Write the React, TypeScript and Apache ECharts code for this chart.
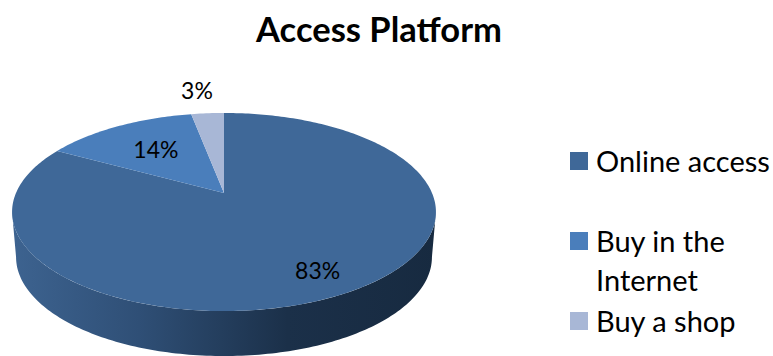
import React, { useEffect, useRef } from "react";
import * as echarts from "echarts";

const titleText = "Access Platform";
const sliceNames = ["Online access", "Buy in the Internet", "Buy a shop"];
const sliceValues = [83, 14, 3];
const sliceColors = ["#3F6898", "#4A7EBB", "#A8B7D6"];
const legendLines = [["Online access"], ["Buy in the", "Internet"], ["Buy a shop"]];

const FONT = "Lato, Carlito, sans-serif";

// Tilted disc: a unit circle seen in perspective, apex slightly above the ellipse centre.
const APEX_X = 224;
const APEX_Y = 193;
const SCALE_X = 208;
const SCALE_Y = 95.4;
const TILT = 0.192;
const RIM_DEPTH = 45;
const RIM_NARROW = 208 / 212;

const project = (theta: number, r = 1): [number, number] => {
  const u = r * Math.sin(theta);
  const v = r * Math.cos(theta);
  const w = 1 + TILT * v;
  return [APEX_X + (SCALE_X * u) / w, APEX_Y - (SCALE_Y * v) / w];
};

const total = sliceValues.reduce((a, b) => a + b, 0);
const toAngle = (value: number) => (value / total) * Math.PI * 2;

const sliceStarts: number[] = [];
sliceValues.reduce((acc, v, i) => {
  sliceStarts[i] = acc;
  return acc + v;
}, 0);

const arcPoints = (from: number, to: number, r = 1) => {
  const steps = Math.max(2, Math.ceil(((to - from) * 180) / Math.PI));
  const pts: [number, number][] = [];
  for (let i = 0; i <= steps; i++) pts.push(project(from + ((to - from) * i) / steps, r));
  return pts;
};

// Side wall of the disc, visible along the front half only.
const renderRim = () => {
  const start = Math.acos(-TILT);
  const end = Math.PI * 2 - start;
  const upper = arcPoints(start, end);
  const lower = upper
    .map(([x, y]): [number, number] => [APEX_X + (x - APEX_X) * RIM_NARROW, y + RIM_DEPTH])
    .reverse();
  return {
    type: "polygon",
    shape: { points: [...upper, ...lower] },
    style: {
      fill: new echarts.graphic.LinearGradient(0, 0, 1, 0, [
        { offset: 0, color: "#3D6390" },
        { offset: 0.3, color: "#2F4F76" },
        { offset: 0.65, color: "#1B3049" },
        { offset: 1, color: "#172A40" },
      ]),
    },
  };
};

// Label placement along each slice's middle direction.
const labelRadius = [0.8, 0.62, 1.35];
const labelShift = [-4, 1, -6];
const labelLift = [1, 0, -1];

const renderSlice = (_: unknown, api: any) => {
  const index = api.value(0);
  const from = toAngle(sliceStarts[index]);
  const to = from + toAngle(sliceValues[index]);
  const [lx, ly] = project((from + to) / 2, labelRadius[index]);
  return {
    type: "group",
    children: [
      {
        type: "polygon",
        shape: { points: [[APEX_X, APEX_Y], ...arcPoints(from, to)] },
        style: { fill: sliceColors[index] },
      },
      {
        type: "text",
        x: lx + labelShift[index],
        y: ly + labelLift[index],
        z2: 10,
        style: {
          text: `${sliceValues[index]}%`,
          font: `23px ${FONT}`,
          fill: "#000000",
          align: "center",
          verticalAlign: "middle",
        },
      },
    ],
  };
};

// Legend rows: swatch beside the first line of each entry.
const legendTop = [162, 242, 322];
const legendGraphic = legendLines.flatMap((lines, i) => [
  {
    type: "rect",
    shape: { x: 570, y: legendTop[i] - 10, width: 18, height: 18 },
    style: { fill: sliceColors[i] },
  },
  ...lines.map((line, j) => ({
    type: "text",
    x: 596,
    y: legendTop[i] - 2 + j * 39,
    style: {
      text: line,
      font: `29px ${FONT}`,
      fill: "#000000",
      align: "left",
      verticalAlign: "middle",
    },
  })),
]);

export default function App() {
  const ref = useRef<HTMLDivElement>(null);

  useEffect(() => {
    document.body.style.margin = "0";
    document.body.style.background = "#ffffff";
    const chart = echarts.init(ref.current!, undefined, { renderer: "svg" });
    chart.setOption({
      animation: false,
      backgroundColor: "#ffffff",
      title: {
        text: titleText,
        left: 374,
        top: 6,
        textAlign: "center",
        textStyle: { fontFamily: FONT, fontWeight: "bold", fontSize: 34.5, color: "#000000" },
      },
      graphic: legendGraphic,
      series: [
        {
          type: "custom",
          name: "rim",
          coordinateSystem: "none",
          data: [[0]],
          renderItem: renderRim,
          silent: true,
        },
        {
          type: "custom",
          name: "slices",
          coordinateSystem: "none",
          data: sliceNames.map((name, i) => ({ name, value: [i] })),
          renderItem: renderSlice,
          silent: true,
        },
      ],
    });
    return () => chart.dispose();
  }, []);

  return <div ref={ref} style={{ width: 773, height: 356 }} />;
}
